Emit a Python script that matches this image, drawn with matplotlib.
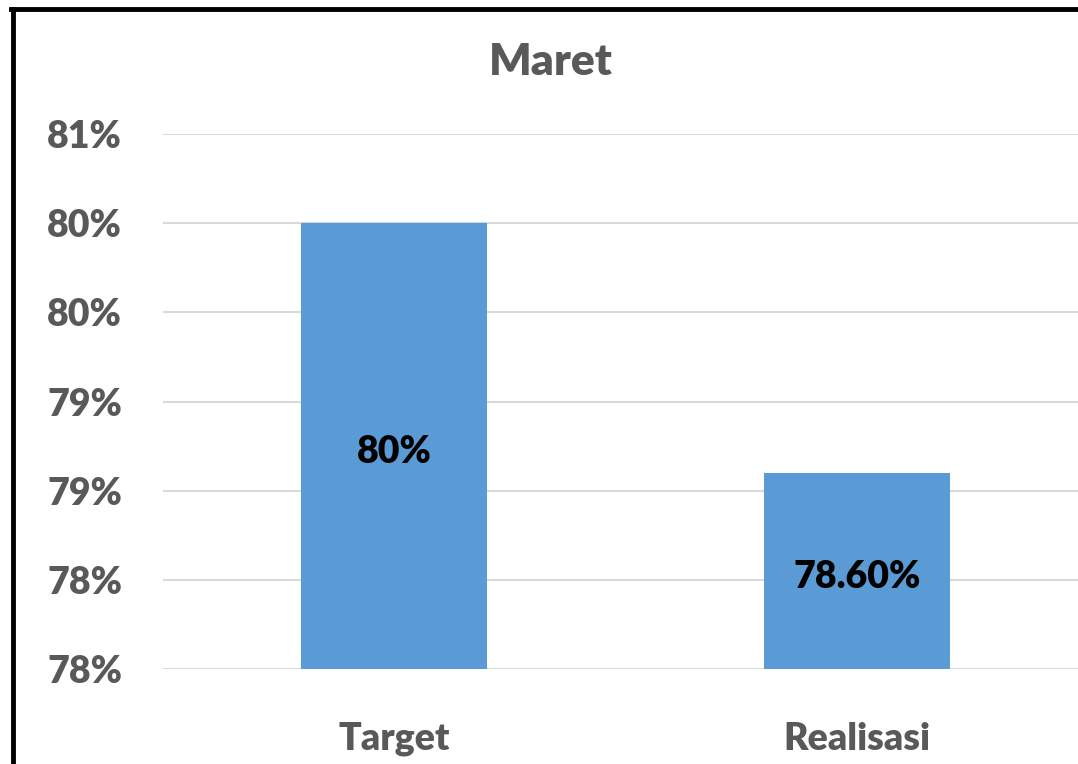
import matplotlib
matplotlib.use("Agg")
import matplotlib.pyplot as plt
from matplotlib.lines import Line2D
from matplotlib.ticker import FuncFormatter, MultipleLocator

categories = ["Target", "Realisasi"]
values = [80.0, 78.6]
value_labels = ["80%", "78.60%"]
title = "Maret"

plt.rcParams['font.family'] = ['Lato', 'DejaVu Sans']
W = 'heavy'
fig = plt.figure(figsize=(10.78, 7.64), dpi=100)
ax = fig.add_axes([162.5/1078, 1-669/764, (1088.5-162.5)/1078, (669-134)/764])

gray = "#595959"
x = range(len(categories))
bars = ax.bar(x, values, width=0.40, color="#5B9BD5", zorder=3)
ax.set_xlim(-0.5, 1.5)
ax.set_ylim(77.5, 80.5)
ax.yaxis.set_major_locator(MultipleLocator(0.5))
ax.yaxis.set_major_formatter(FuncFormatter(lambda v, p: f"{int(v + 0.5 + 1e-9)}%"))
ax.grid(axis='y', color="#D9D9D9", linewidth=1.5, zorder=0)
for s in ax.spines.values():
    s.set_visible(False)
ax.tick_params(axis='both', length=0, labelsize=27, labelcolor=gray, pad=0)
ax.tick_params(axis='y', pad=29)
ax.tick_params(axis='x', pad=38)
ax.set_xticks(list(x))
ax.set_xticklabels(categories)
for lbl in ax.get_xticklabels() + ax.get_yticklabels():
    lbl.set_fontweight(W)

for xi, v, t in zip(x, values, value_labels):
    ax.annotate(t, (xi, (77.5 + v) / 2), xytext=(0, -6), textcoords='offset pixels',
                ha='center', va='center', fontsize=27,
                fontweight=W, color='black', zorder=4)

fig.text(551/1078, 1-62/764, title, ha='center', va='center', fontsize=32,
         fontweight=W, color=gray)

# outer frame (left and top visible)
fig.add_artist(Line2D([13/1078, 13/1078], [0, 1-9/764], color='black', linewidth=3.5,
                      transform=fig.transFigure))
fig.add_artist(Line2D([11/1078, 1], [1-9/764, 1-9/764], color='black', linewidth=3.5,
                      transform=fig.transFigure))

fig.savefig("out.png", dpi=100)
